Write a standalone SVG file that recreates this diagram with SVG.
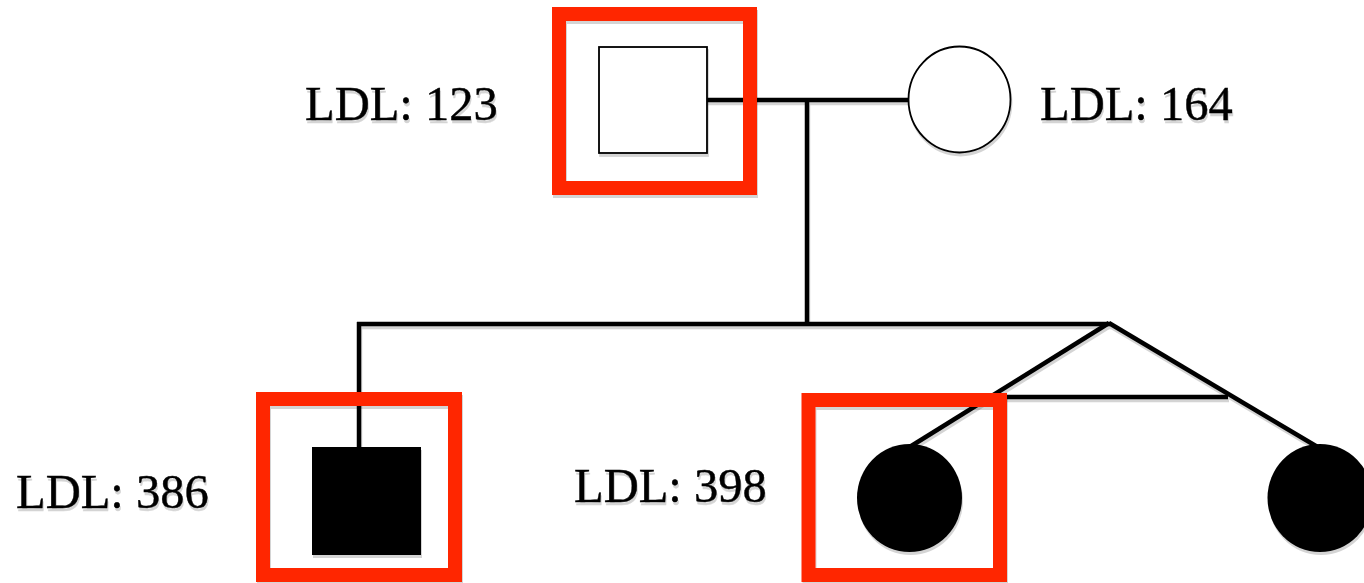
<svg xmlns="http://www.w3.org/2000/svg" width="1364" height="583" viewBox="0 0 1364 583">
  <defs>
    <filter id="shadow" x="-10%" y="-10%" width="130%" height="140%">
      <feDropShadow dx="1" dy="3" stdDeviation="0.6" flood-color="#000" flood-opacity="0.17"/>
    </filter>
    <style>
      .line { stroke: #000; stroke-width: 4.5; fill: none; stroke-linecap: butt; }
      .open { fill: #fff; stroke: #000; stroke-width: 1.8; }
      .filled { fill: #000; stroke: none; }
      .mark { fill: none; stroke: #ff2600; stroke-width: 14; }
      .label { font-family: "Liberation Serif", "DejaVu Serif", serif; font-size: 48.5px; fill: #000; stroke: #000; stroke-width: 0.4; font-variant-numeric: oldstyle-nums; }
    </style>
  </defs>
  <rect width="1364" height="583" fill="#fff"/>

  <!-- connectors: marriage line, descent lines, sibship line, twin branch -->
  <g id="connectors" filter="url(#shadow)">
    <line class="line" x1="707" y1="100" x2="909" y2="100"/>
    <line class="line" x1="807" y1="100" x2="807" y2="325"/>
    <line class="line" x1="357" y1="324" x2="1110" y2="324"/>
    <line class="line" x1="359" y1="322" x2="359" y2="450"/>
    <line class="line" x1="1109" y1="323" x2="908" y2="448"/>
    <line class="line" x1="1109" y1="323" x2="1321" y2="449"/>
    <line class="line" x1="988" y1="397" x2="1228" y2="397"/>
  </g>

  <!-- father -->
  <g id="father">
    <rect class="open" x="599" y="47" width="108" height="106" filter="url(#shadow)"/>
    <rect class="mark" x="559" y="14" width="191" height="174" filter="url(#shadow)"/>
    <text class="label" x="305" y="120" filter="url(#shadow)">LDL: 123</text>
  </g>

  <!-- mother -->
  <g id="mother">
    <ellipse class="open" cx="959.5" cy="99.5" rx="51" ry="53" filter="url(#shadow)"/>
    <text class="label" x="1040" y="120" filter="url(#shadow)">LDL: 164</text>
  </g>

  <!-- son (affected) -->
  <g id="son">
    <rect class="filled" x="312" y="447" width="109" height="108" filter="url(#shadow)"/>
    <rect class="mark" x="263" y="399" width="192" height="176" filter="url(#shadow)"/>
    <text class="label" x="16" y="508" filter="url(#shadow)">LDL: 386</text>
  </g>

  <!-- twin daughter (affected) -->
  <g id="twin-a">
    <ellipse class="filled" cx="909.5" cy="498" rx="52.5" ry="54" filter="url(#shadow)"/>
    <rect class="mark" x="808.5" y="400" width="191.5" height="175" filter="url(#shadow)"/>
    <text class="label" x="574" y="502" filter="url(#shadow)">LDL: 398</text>
  </g>

  <!-- twin daughter (affected) -->
  <g id="twin-b">
    <ellipse class="filled" cx="1320" cy="498" rx="52.5" ry="54" filter="url(#shadow)"/>
  </g>
</svg>
